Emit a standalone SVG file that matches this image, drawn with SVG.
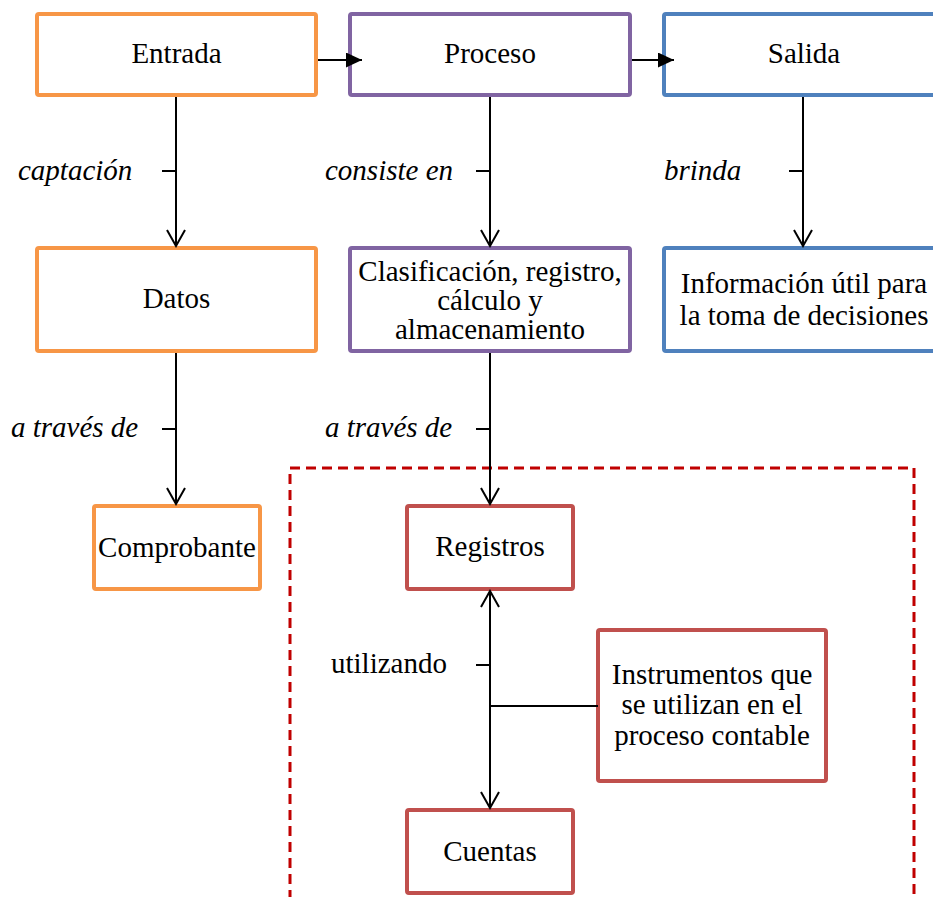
<svg xmlns="http://www.w3.org/2000/svg" width="933" height="897" viewBox="0 0 933 897">
<style>
.box{fill:#fff;stroke-width:4}
.o{stroke:#F79646}.p{stroke:#8064A2}.b{stroke:#4F81BD}.r{stroke:#C0504D}
text{font-family:"Liberation Serif","Times New Roman",serif;font-size:29px;fill:#000}
.c{text-anchor:middle}
.i{font-style:italic}
.ln{stroke:#000;stroke-width:2;fill:none}
</style>
<defs>
<marker id="open" markerUnits="userSpaceOnUse" markerWidth="20" markerHeight="20" refX="18" refY="10" orient="auto-start-reverse">
<path d="M2,1 L18,10 L2,19" fill="none" stroke="#000" stroke-width="2"/>
</marker>
<marker id="fill" markerUnits="userSpaceOnUse" markerWidth="16" markerHeight="16" refX="16" refY="7.5" orient="auto">
<path d="M0,0 L16,7.5 L0,15 Z" fill="#000"/>
</marker>
</defs>
<rect x="290" y="468" width="624" height="440" fill="none" stroke="#C00000" stroke-width="3" stroke-dasharray="10,6"/>
<g id="entrada"><rect class="box o" x="37" y="14" width="279" height="81" rx="2"/><text class="c" x="176.5" y="63">Entrada</text></g>
<g id="proceso"><rect class="box p" x="350" y="14" width="280" height="81" rx="2"/><text class="c" x="490" y="63">Proceso</text></g>
<g id="salida"><rect class="box b" x="664" y="14" width="280" height="81" rx="2"/><text class="c" x="804" y="63">Salida</text></g>
<g id="datos"><rect class="box o" x="37" y="248" width="279" height="103" rx="2"/><text class="c" x="176.5" y="308">Datos</text></g>
<g id="clasificacion"><rect class="box p" x="350" y="248" width="280" height="103" rx="2"/>
<text class="c" x="490" y="281">Clasificación, registro,</text>
<text class="c" x="490" y="310">cálculo y</text>
<text class="c" x="490" y="339">almacenamiento</text></g>
<g id="informacion"><rect class="box b" x="664" y="248" width="280" height="103" rx="2"/>
<text class="c" x="804" y="293">Información útil para</text>
<text class="c" x="804" y="325">la toma de decisiones</text></g>
<g id="comprobante"><rect class="box o" x="94" y="506" width="166" height="83" rx="2"/><text class="c" x="177" y="557">Comprobante</text></g>
<g id="registros"><rect class="box r" x="407" y="506" width="166" height="83" rx="2"/><text class="c" x="490" y="556">Registros</text></g>
<g id="instrumentos"><rect class="box r" x="598" y="630" width="228" height="151" rx="2"/>
<text class="c" x="712" y="684">Instrumentos que</text>
<text class="c" x="712" y="714">se utilizan en el</text>
<text class="c" x="712" y="745">proceso contable</text></g>
<g id="cuentas"><rect class="box r" x="407" y="810" width="166" height="83" rx="2"/><text class="c" x="490" y="861">Cuentas</text></g>
<g id="connectors">
<line class="ln" x1="318" y1="60" x2="362" y2="60" marker-end="url(#fill)"/>
<line class="ln" x1="632" y1="60" x2="674" y2="60" marker-end="url(#fill)"/>
<line class="ln" x1="176" y1="97" x2="176" y2="246" marker-end="url(#open)"/>
<line class="ln" x1="162" y1="171" x2="176" y2="171"/>
<line class="ln" x1="490" y1="97" x2="490" y2="246" marker-end="url(#open)"/>
<line class="ln" x1="476" y1="171" x2="490" y2="171"/>
<line class="ln" x1="803" y1="97" x2="803" y2="246" marker-end="url(#open)"/>
<line class="ln" x1="789" y1="171" x2="803" y2="171"/>
<line class="ln" x1="176" y1="353" x2="176" y2="504" marker-end="url(#open)"/>
<line class="ln" x1="162" y1="429" x2="176" y2="429"/>
<line class="ln" x1="490" y1="353" x2="490" y2="504" marker-end="url(#open)"/>
<line class="ln" x1="476" y1="429" x2="490" y2="429"/>
<line class="ln" x1="490" y1="591" x2="490" y2="808" marker-start="url(#open)" marker-end="url(#open)"/>
<line class="ln" x1="476" y1="665" x2="490" y2="665"/>
<line class="ln" x1="490" y1="706" x2="598" y2="706" stroke-width="1.6"/>
<text class="i" x="18" y="180">captación</text>
<text class="i" x="325" y="180">consiste en</text>
<text class="i" x="664" y="180">brinda</text>
<text class="i" x="11" y="437">a través de</text>
<text class="i" x="325" y="437">a través de</text>
<text x="331" y="673">utilizando</text>
</g>
</svg>
